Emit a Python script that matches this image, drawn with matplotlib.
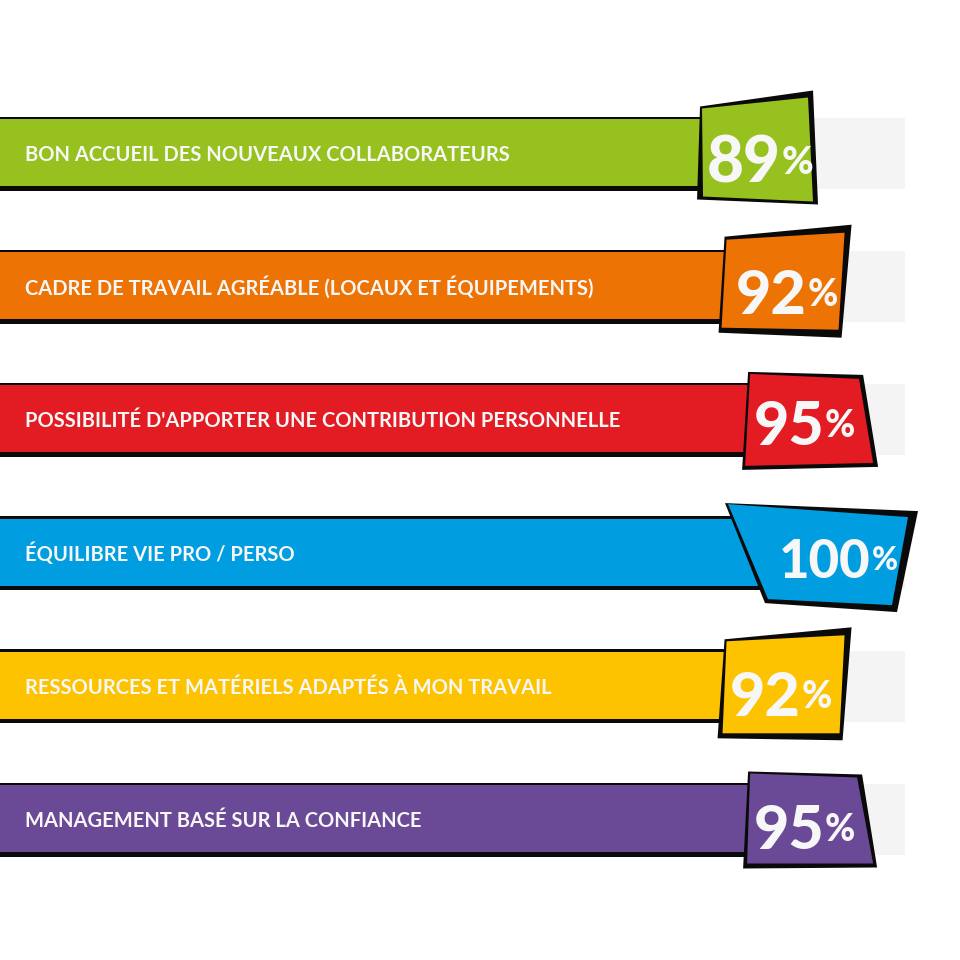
import matplotlib
matplotlib.use("Agg")
import matplotlib.pyplot as plt
from matplotlib.patches import Polygon

# ---- data ----
labels = [
    "BON ACCUEIL DES NOUVEAUX COLLABORATEURS",
    "CADRE DE TRAVAIL AGRÉABLE (LOCAUX ET ÉQUIPEMENTS)",
    "POSSIBILITÉ D'APPORTER UNE CONTRIBUTION PERSONNELLE",
    "ÉQUILIBRE VIE PRO / PERSO",
    "RESSOURCES ET MATÉRIELS ADAPTÉS À MON TRAVAIL",
    "MANAGEMENT BASÉ SUR LA CONFIANCE",
]
values = [89, 92, 95, 100, 92, 95]
value_labels = ["89", "92", "95", "100", "92", "95"]
track_max = 98.6

# ---- style ----
colors = ["#97c11f", "#ee7305", "#e31b23", "#009ee0", "#fdc300", "#6a4997"]
PX_X = 9.18     # px per percent
PX_Y = 133.2    # px per category
Y0 = 153.5      # px of first bar centre

# box shapes: (outer, inner) vertex offsets in px relative to (value end, bar centre)
shapes = [
    ([(-117, -47), (-4, -63), (1, 51), (-120, 46)],
     [(-115, -45), (-9, -56), (-4, 48), (-114, 43)]),
    ([(-120, -50), (7, -62), (-3, 51), (-126, 46)],
     [(-118, -47), (0, -54), (-6, 43), (-123, 41)]),
    ([(-124, -48), (-9, -45), (6, 47), (-130, 50)],
     [(-122, -46), (-13, -41), (1, 43), (-127, 46)]),
    ([(-193, -50), (0, -42), (-21, 59), (-153, 50)],
     [(-190, -49), (-10, -36), (-26, 52), (-150, 46)]),
    ([(-120, -47), (7, -59), (-2, 54), (-127, 52)],
     [(-118, -45), (0, -51), (-5, 47), (-122, 47)]),
    ([(-124, -48), (-10, -45), (5, 48), (-129, 49)],
     [(-122, -46), (-15, -42), (1, 44), (-125, 44)]),
]
# number right edge offset, baseline offset (px), font size
num_pos = [(-36, 29), (-38, 27), (-48, 25), (-47, 25), (-44, 30), (-48, 30)]
num_size = [46, 44, 44, 38, 44, 44]

fig = plt.figure(figsize=(9.6, 9.6), dpi=100)
fig.patch.set_facecolor("white")
ax = fig.add_axes([0, 0, 1, 1])
ax.set_xlim(0, 960 / PX_X)
ax.set_ylim((960 - Y0) / PX_Y, (0 - Y0) / PX_Y)
ax.axis("off")

ypos = list(range(len(values)))
dx = lambda px: px / PX_X
dy = lambda px: px / PX_Y

# grey tracks
ax.barh(ypos, [track_max] * len(values), height=dy(71), color="#f4f4f4", zorder=1)
# ribbons (black border then colour)
ax.barh(ypos, [v - 8 for v in values], height=dy(74), color="#0a0a0a", zorder=2)
ax.barh([y - dy(1) for y in ypos], [v - 8 for v in values], height=dy(67),
        color=colors, zorder=3)

for i, (v, c) in enumerate(zip(values, colors)):
    outer, inner = shapes[i]
    ax.add_patch(Polygon([(v + dx(a), i + dy(b)) for a, b in outer], closed=True,
                         facecolor="#0a0a0a", edgecolor="none", zorder=4))
    ax.add_patch(Polygon([(v + dx(a), i + dy(b)) for a, b in inner], closed=True,
                         facecolor=c, edgecolor="none", zorder=5))
    ax.text(dx(25), i + dy(7.5), labels[i], color="#f7f7f7", fontsize=14.5,
            family="Lato", fontweight="bold", ha="left", va="baseline", zorder=6)
    ox, oy = num_pos[i]
    ax.text(v + dx(ox), i + dy(oy), value_labels[i], color="#f7f7f7",
            fontsize=num_size[i], family="Lato", fontweight=900,
            ha="right", va="baseline", zorder=6)
    ax.text(v + dx(ox + 1), i + dy(oy - 8), "%", color="#f7f7f7",
            fontsize=num_size[i] * 0.6, family="Lato", fontweight=900,
            ha="left", va="baseline", zorder=6)

fig.savefig("out.png", dpi=100, facecolor="white")
